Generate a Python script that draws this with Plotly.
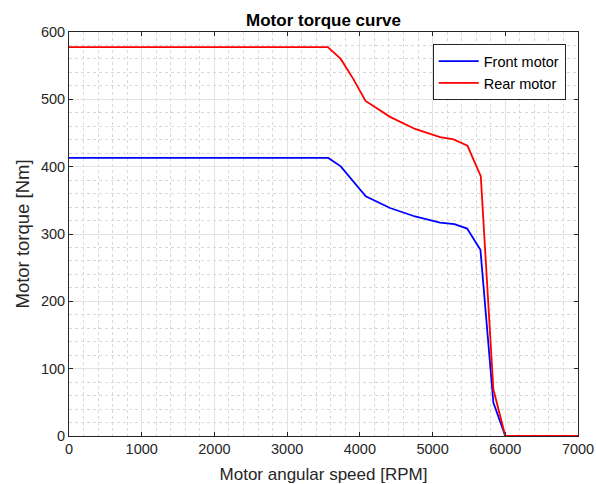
import plotly.graph_objects as go

speed_front = [0, 3567, 3737, 3911, 4081, 4415, 4759, 5103, 5300, 5475, 5658, 5836, 6000, 7000]
torque_front = [413, 413, 400.5, 378, 356, 338.6, 326, 317, 314.8, 308, 276.6, 49.5, 0, 0]

speed_rear = [0, 3560, 3737, 3911, 4078, 4415, 4759, 5103, 5290, 5480, 5663, 5836, 6000, 7000]
torque_rear = [577.5, 577.5, 560, 530, 497.6, 474, 456, 444, 440.5, 431, 386, 69.4, 0, 0]

x_ticks = [0, 1000, 2000, 3000, 4000, 5000, 6000, 7000]
y_ticks = [0, 100, 200, 300, 400, 500, 600]

FONT = "Liberation Sans, Arial, sans-serif"

fig = go.Figure()
fig.add_trace(go.Scatter(x=speed_front, y=torque_front, mode="lines", name="Front motor",
                         line=dict(color="#0000ff", width=1.8)))
fig.add_trace(go.Scatter(x=speed_rear, y=torque_rear, mode="lines", name="Rear motor",
                         line=dict(color="#ff0000", width=1.8)))

axis_common = dict(
    showline=True, linecolor="#262626", linewidth=1, mirror="ticks",
    ticks="inside", ticklen=4, tickcolor="#262626",
    showgrid=True, gridcolor="#e3e3e3", gridwidth=1,
    zeroline=False,
    tickfont=dict(family=FONT, size=14.5, color="#262626"),
)

fig.update_xaxes(range=[0, 7000], tickvals=x_ticks, title_text="Motor angular speed [RPM]",
                 title_font=dict(family=FONT, size=17, color="#262626"),
                 title_standoff=12,
                 minor=dict(dtick=200, showgrid=True, griddash="dot", gridcolor="#d8d8d8", gridwidth=1),
                 **axis_common)
fig.update_yaxes(range=[0, 600], tickvals=y_ticks, title_text="Motor torque [Nm]",
                 title_font=dict(family=FONT, size=18.5, color="#262626"),
                 title_standoff=6,
                 minor=dict(dtick=20, showgrid=True, griddash="dot", gridcolor="#d8d8d8", gridwidth=1),
                 **axis_common)

fig.update_layout(
    width=596, height=484,
    margin=dict(l=69, r=18, t=32, b=48, autoexpand=False),
    paper_bgcolor="white", plot_bgcolor="white",
    title=dict(text="<b>Motor torque curve</b>", xref="paper", x=0.5, xanchor="center",
               yref="container", y=0.959, yanchor="middle",
               font=dict(family=FONT, size=17, color="black")),
    legend=dict(x=0.7146, y=0.97, xanchor="left", yanchor="top",
                bgcolor="white", bordercolor="#262626", borderwidth=1,
                font=dict(family=FONT, size=14.5, color="black"),
                tracegroupgap=0, itemwidth=40),
    showlegend=True,
)

fig.write_html("out.html")
